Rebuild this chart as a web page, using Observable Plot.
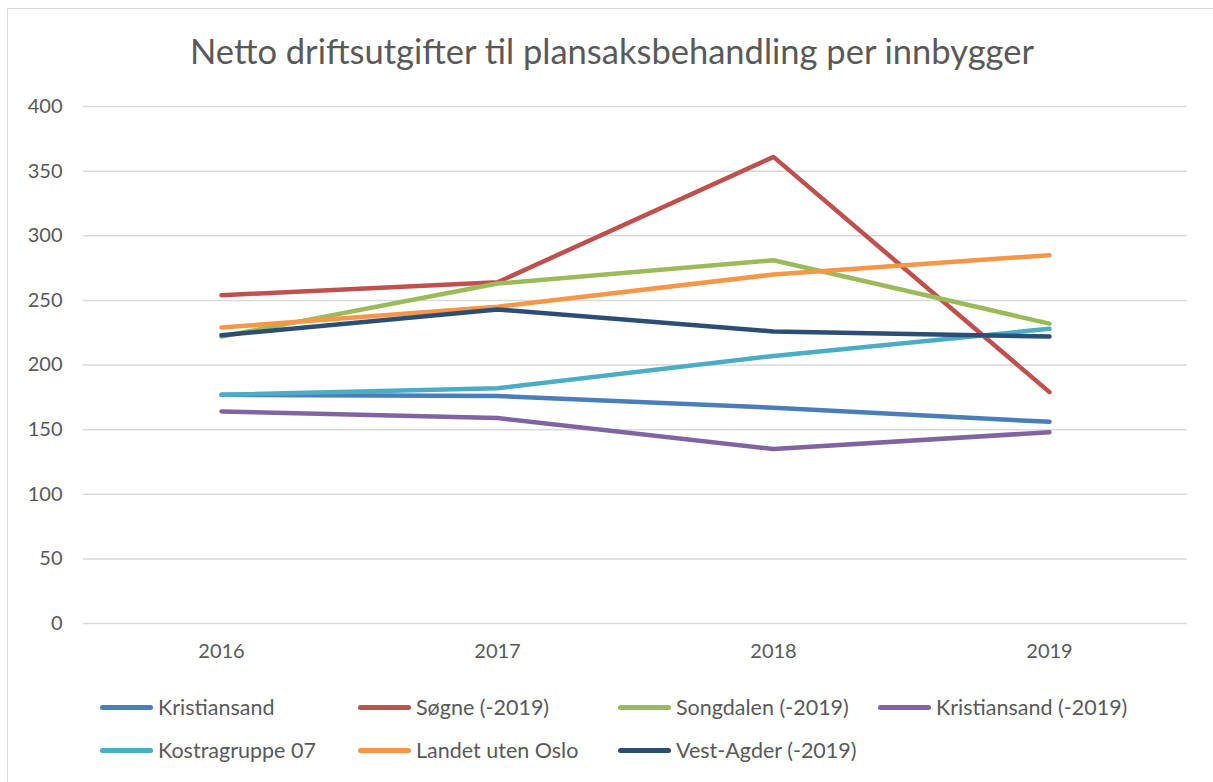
<!DOCTYPE html>
<html>
<head>
<meta charset="utf-8">
<script src="https://cdn.jsdelivr.net/npm/d3@7"></script>
<script src="https://cdn.jsdelivr.net/npm/@observablehq/plot@0.6"></script>
<style>
  html, body { margin: 0; padding: 0; background: #fff; }
  #wrap { position: relative; width: 1213px; height: 782px; overflow: hidden; font-family: Lato, "Open Sans", sans-serif; color: #595959; }
  #frame { position: absolute; left: 7px; top: 8px; width: 1300px; height: 900px; border-left: 1.5px solid #d9d9d9; border-top: 1.5px solid #d9d9d9; box-sizing: border-box; }
  #title { position: absolute; left: 0; width: 1224px; top: 29px; text-align: center; font-size: 34.5px; line-height: 44px; color: #595959; white-space: nowrap; }
  #chart { position: absolute; left: 0; top: 80px; }
  .leg { position: absolute; font-size: 21.5px; line-height: 24px; color: #595959; white-space: nowrap; }
  .sw { position: absolute; left: 0; top: 9.5px; width: 53px; height: 5px; border-radius: 3px; }
  .lt { position: absolute; left: 58px; top: 0; }
</style>
</head>
<body>
<div id="wrap">
  <div id="frame"></div>
  <div id="title">Netto driftsutgifter til plansaksbehandling per innbygger</div>
  <div id="chart"></div>
  <div id="legend"></div>
</div>
<script>
const years = ["2016", "2017", "2018", "2019"];
const seriesNames = ["Kristiansand", "Søgne (-2019)", "Songdalen (-2019)", "Kristiansand (-2019)", "Kostragruppe 07", "Landet uten Oslo", "Vest-Agder (-2019)"];
const seriesColors = ["#4a7ebb", "#c0504d", "#9bbb59", "#8064a2", "#4bacc6", "#f79646", "#2c4d75"];
const kristiansand = [177, 176, 167, 156];
const sogne = [254, 264, 361, 179];
const songdalen = [222, 263, 281, 232];
const kristiansandOld = [164, 159, 135, 148];
const kostragruppe07 = [177, 182, 207, 228];
const landetUtenOslo = [229, 245, 270, 285];
const vestAgder = [223, 243, 226, 222];
const yTicks = [0, 50, 100, 150, 200, 250, 300, 350, 400];

const allValues = [kristiansand, sogne, songdalen, kristiansandOld, kostragruppe07, landetUtenOslo, vestAgder];
const data = [];
seriesNames.forEach((name, i) => {
  years.forEach((yr, j) => data.push({ series: name, year: yr, value: allValues[i][j] }));
});

const chart = Plot.plot({
  width: 1213,
  height: 600,
  marginTop: 26,
  marginBottom: 57,
  marginLeft: 83,
  marginRight: 26,
  style: { fontFamily: "Lato, 'Open Sans', sans-serif", fontSize: "20px", color: "#595959", background: "transparent" },
  x: { type: "point", domain: years, padding: 0.5, label: null, tickSize: 0, tickPadding: 20 },
  y: { domain: [0, 400], ticks: yTicks, label: null, tickSize: 0, tickPadding: 21 },
  color: { domain: seriesNames, range: seriesColors },
  marks: [
    Plot.ruleY(yTicks, { stroke: "#d9d9d9", strokeWidth: 1.5 }),
    Plot.line(data, { x: "year", y: "value", z: "series", stroke: "series", strokeWidth: 4.5, strokeLinecap: "round", strokeLinejoin: "miter" }),
    Plot.axisX({ tickSize: 0, tickPadding: 20, fontSize: 20 }),
    Plot.axisY({ ticks: yTicks, tickSize: 0, tickPadding: 21, fontSize: 20 })
  ]
});
document.getElementById("chart").appendChild(chart);

const legend = document.getElementById("legend");
const colX = [100, 358, 618, 878];
const rowY = [695, 738];
seriesNames.forEach((name, i) => {
  const el = document.createElement("div");
  el.className = "leg";
  el.style.left = colX[i % 4] + "px";
  el.style.top = rowY[Math.floor(i / 4)] + "px";
  el.innerHTML = `<div class="sw" style="background:${seriesColors[i]}"></div><div class="lt"></div>`;
  el.querySelector(".lt").textContent = name;
  legend.appendChild(el);
});
</script>
</body>
</html>
